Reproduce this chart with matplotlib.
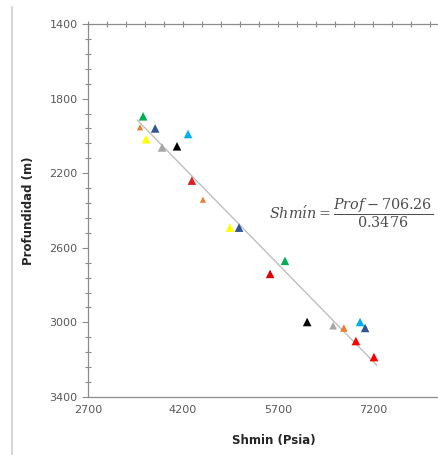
import matplotlib
matplotlib.use("Agg")
import matplotlib.pyplot as plt
from matplotlib.lines import Line2D
import numpy as np

matplotlib.rcParams.update(
    {
        "font.family": "DejaVu Sans",
        "mathtext.fontset": "dejavuserif",
    }
)

# minimum horizontal stress (psia) vs depth (m), one triangle per well/point
shmin = [3570, 3520, 3760, 3615, 4280, 3870, 4105, 4340, 4515, 4940,
         5085, 5810, 5575, 6160, 6570, 6740, 6995, 7075, 6930, 7215]
prof = [1895, 1954, 1960, 2018, 1990, 2062, 2056, 2240, 2342, 2492,
        2492, 2670, 2740, 2998, 3018, 3030, 2998, 3030, 3100, 3186]
point_colors = ["#00B050", "#ED7D31", "#2F5597", "#FFFF00", "#00B0F0",
                "#A5A5A5", "#000000", "#E02020", "#ED7D31", "#FFFF00",
                "#2F5597", "#00B050", "#E00000", "#000000", "#A5A5A5",
                "#ED7D31", "#00B0F0", "#2F5597", "#FF0000", "#FF0000"]
point_sizes = [38, 20, 38, 38, 38, 38, 38, 38, 20, 38,
               38, 38, 38, 38, 30, 30, 38, 38, 38, 38]

# axis ticks
x_ticks = [2700, 4200, 5700, 7200]
y_ticks = [1400, 1800, 2200, 2600, 3000, 3400]

# linear fit: Prof = slope * Shmin + intercept
fit_slope = 0.3476
fit_intercept = 706.26
fit_range = [3480, 7260]

fig = plt.figure(figsize=(4.39, 4.55), dpi=100)
ax = fig.add_axes([0.2005, 0.1275, 0.8656, 0.8198])

fx = np.array(fit_range)
ax.plot(fx, fit_slope * fx + fit_intercept, color="#BFBFBF", lw=1.0, zorder=1)
ax.scatter(shmin, prof, marker="^", s=point_sizes, c=point_colors,
           edgecolors="none", zorder=3)

ax.set_xlim(2700, 8700)
ax.set_ylim(3400, 1400)
ax.set_xticks(x_ticks)
ax.set_yticks(y_ticks)
ax.set_yticks(np.arange(1400, 3401, 80), minor=True)

ax.spines["right"].set_visible(False)
for s in ["top", "bottom", "left"]:
    ax.spines[s].set_color("#8C8C8C")
    ax.spines[s].set_linewidth(0.9)

ax.tick_params(axis="both", which="major", labelsize=8, labelcolor="#595959",
               color="#8C8C8C", length=4, width=0.8)
ax.tick_params(axis="x", which="major", length=0, pad=6)
ax.tick_params(axis="y", which="minor", direction="inout", length=4,
               width=0.8, color="#8C8C8C")

# small tick marks along the top line, as in the source chart
top = ax.secondary_xaxis("top")
top.set_xticks(np.arange(2700, 8701, 300))
top.tick_params(direction="inout", length=4, width=0.8, color="#8C8C8C",
                labeltop=False)
top.spines["top"].set_visible(False)

ax.set_xlabel("Shmin (Psia)", fontsize=8.5, fontweight="bold",
              color="#262626")
ax.set_ylabel("Profundidad (m)", fontsize=8.5, fontweight="bold",
              color="#262626", labelpad=10)
ax.xaxis.set_label_coords(0.49, -0.1)

fig.text(0.613, 0.532,
         r"$Shm\acute{\imath}n = \dfrac{Prof - 706.26}{0.3476}$",
         fontsize=10.4, color="#4D4D4D", ha="left", va="center")

# page border on the left
fig.add_artist(Line2D([0.027, 0.027], [0.0, 0.985], transform=fig.transFigure,
                      color="#D0D0D0", lw=1.2))

fig.savefig("out.png", dpi=100)
